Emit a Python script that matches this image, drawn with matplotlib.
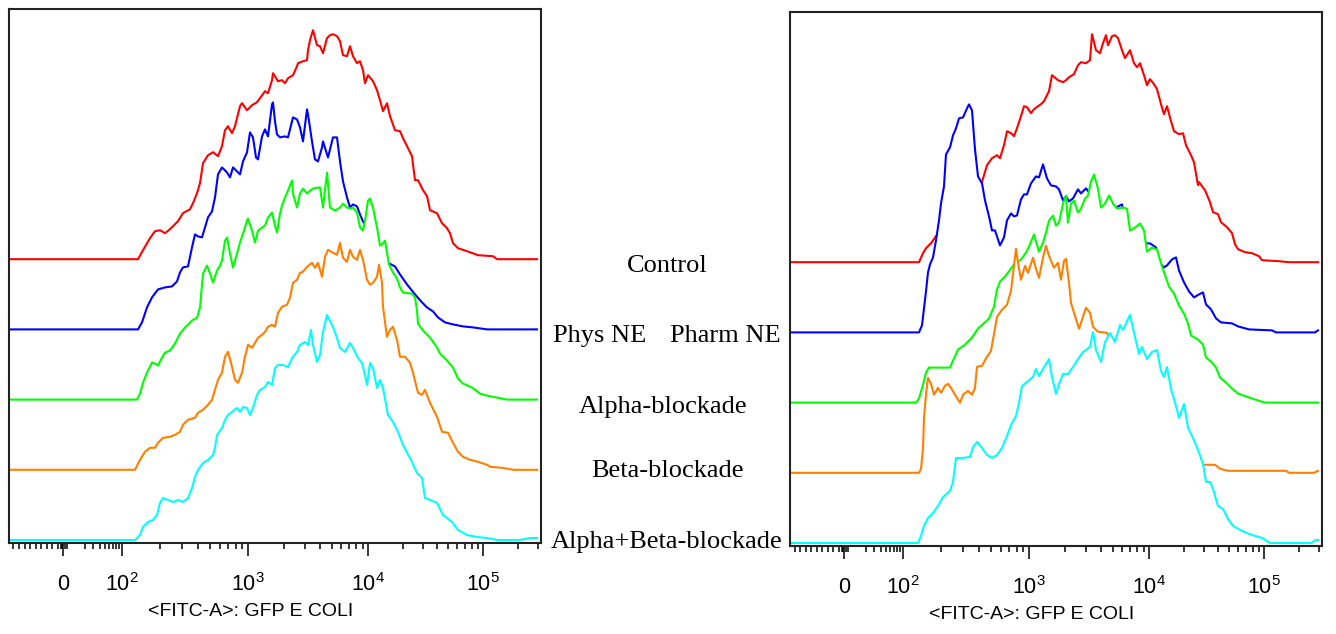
import numpy as np
import matplotlib
matplotlib.use('Agg')
import matplotlib.pyplot as plt

''' Staggered FITC-A histograms of GFP E. coli, two panels.
    x = display channel on the biexponential FITC axis, y = events (normalised to mode).
'''

plt.rcParams['font.family'] = ['Liberation Sans', 'DejaVu Sans']
plt.rcParams['mathtext.fontset'] = 'custom'
plt.rcParams['mathtext.rm'] = 'Liberation Sans'
plt.rcParams['mathtext.it'] = 'Liberation Sans:italic'
plt.rcParams['mathtext.bf'] = 'Liberation Sans:bold'

# ---- left panel (Phys NE) ----
left_control_x = [1, 129, 134, 141, 146, 151, 156, 161, 169, 174, 181, 184, 188, 191, 194, 199, 204, 209, 213, 216,
                  219, 223, 226, 231, 233, 238, 243, 248, 251, 256, 259, 263, 264, 269, 273, 276, 279, 284, 288, 289,
                  294, 298, 299, 301, 304, 308, 311, 314, 318, 321, 324, 328, 331, 334, 338, 341, 344, 348, 351, 354,
                  356, 359, 364, 368, 371, 374, 378, 381, 386, 391, 394, 399, 403, 406, 409, 414, 418, 421, 428, 433,
                  438, 441, 444, 449, 458, 469, 484, 488, 528]
left_control_y = [0, 0, 9, 21, 28, 29, 26, 30, 38, 46, 50, 56, 66, 76, 96, 104, 107, 103, 113, 129,
                  133, 126, 133, 153, 156, 149, 154, 157, 161, 168, 166, 179, 186, 178, 179, 176, 181, 184, 193, 196,
                  198, 199, 209, 219, 229, 214, 213, 206, 221, 224, 225, 223, 218, 204, 203, 213, 203, 196, 198, 189,
                  176, 184, 178, 169, 159, 148, 156, 143, 129, 128, 121, 111, 103, 79, 79, 69, 63, 49, 46, 36,
                  31, 26, 16, 11, 8, 4, 3, 0, 0]

left_ne_x = [1, 129, 133, 138, 143, 149, 156, 163, 168, 171, 174, 179, 183, 186, 189, 193, 196, 199, 203, 206,
             209, 213, 218, 221, 224, 228, 231, 234, 238, 241, 244, 247, 249, 253, 256, 259, 263, 264, 266, 268,
             271, 276, 279, 284, 288, 291, 294, 298, 299, 303, 306, 309, 313, 314, 319, 324, 328, 331, 334, 338,
             341, 344, 348, 351, 354, 357, 363, 369, 374, 380, 386, 391, 398, 406, 413, 418, 424, 429, 436, 444,
             454, 464, 478, 528]
left_ne_y = [0, 0, 7, 22, 32, 40, 42, 43, 48, 57, 62, 63, 82, 95, 93, 92, 102, 112, 118, 132,
             155, 162, 157, 152, 162, 158, 155, 168, 177, 197, 192, 172, 170, 193, 200, 193, 225, 227, 208, 195,
             192, 193, 192, 212, 210, 202, 188, 220, 215, 188, 170, 168, 182, 188, 172, 192, 192, 168, 148, 132,
             122, 125, 123, 115, 108, 103, 96, 80, 72, 66, 63, 55, 45, 35, 27, 22, 18, 12, 7, 5,
             3, 2, 0, 0]

left_alpha_x = [1, 128, 131, 134, 138, 143, 146, 149, 153, 156, 161, 166, 171, 176, 183, 188, 191, 194, 198, 201,
                204, 208, 211, 213, 216, 218, 221, 224, 228, 231, 234, 238, 239, 243, 246, 249, 253, 256, 259, 263,
                266, 268, 271, 273, 276, 279, 283, 284, 288, 291, 294, 298, 301, 304, 308, 311, 314, 318, 321, 326,
                331, 334, 338, 341, 344, 348, 351, 354, 356, 359, 361, 364, 368, 371, 374, 376, 380, 384, 388, 391,
                394, 403, 406, 408, 409, 414, 421, 428, 431, 438, 444, 449, 454, 463, 471, 478, 488, 498, 528]
left_alpha_y = [0, 0, 6, 17, 27, 37, 36, 34, 42, 47, 49, 56, 66, 72, 79, 82, 92, 126, 134, 126,
                117, 129, 134, 139, 159, 162, 146, 132, 146, 157, 166, 179, 181, 169, 157, 169, 172, 174, 182, 187,
                174, 167, 186, 194, 202, 209, 219, 206, 192, 206, 211, 206, 209, 211, 212, 212, 192, 227, 192, 189,
                192, 196, 192, 191, 192, 187, 172, 169, 179, 199, 201, 192, 172, 154, 156, 159, 135, 127, 121, 112,
                107, 106, 102, 89, 76, 69, 62, 52, 46, 39, 32, 21, 16, 12, 6, 4, 2, 0, 0]

left_beta_x = [1, 126, 131, 136, 141, 146, 149, 154, 161, 166, 171, 174, 179, 186, 189, 194, 199, 203, 206, 209,
               213, 216, 219, 223, 226, 229, 233, 236, 239, 243, 246, 249, 253, 256, 259, 263, 266, 269, 273, 278,
               281, 284, 288, 291, 294, 298, 303, 306, 309, 313, 316, 319, 324, 328, 331, 334, 338, 341, 344, 348,
               351, 354, 358, 361, 364, 368, 370, 373, 374, 378, 381, 384, 388, 391, 396, 401, 404, 409, 413, 416,
               421, 428, 433, 439, 444, 449, 454, 461, 469, 478, 481, 493, 505, 528]
left_beta_y = [0, 0, 10, 18, 22, 22, 27, 32, 33, 35, 38, 45, 50, 52, 57, 60, 65, 70, 80, 90,
               97, 113, 118, 103, 90, 87, 97, 113, 125, 122, 127, 132, 135, 138, 143, 145, 143, 157, 163, 165,
               172, 187, 190, 197, 198, 203, 207, 202, 207, 193, 213, 220, 217, 215, 227, 212, 208, 220, 213, 210,
               220, 210, 190, 185, 187, 193, 205, 187, 163, 133, 140, 143, 130, 113, 113, 107, 97, 77, 75, 80,
               67, 53, 38, 37, 27, 18, 13, 10, 8, 5, 3, 2, 0, 0]

left_ab_x = [1, 126, 131, 134, 139, 144, 148, 151, 154, 159, 164, 169, 174, 179, 183, 186, 189, 194, 199, 204,
             206, 208, 213, 216, 219, 223, 228, 231, 234, 238, 241, 244, 248, 251, 256, 259, 263, 266, 269, 274,
             279, 283, 288, 291, 296, 299, 302, 304, 308, 311, 314, 318, 321, 324, 328, 331, 336, 341, 344, 349,
             353, 356, 358, 361, 364, 368, 371, 374, 379, 384, 389, 394, 401, 408, 413, 416, 421, 428, 434, 443,
             449, 458, 468, 478, 488, 511, 521, 528]
left_ab_y = [0, 0, 5, 13, 18, 20, 25, 37, 42, 40, 38, 40, 38, 42, 52, 63, 70, 77, 80, 85,
             92, 105, 112, 120, 125, 128, 132, 128, 133, 132, 125, 132, 145, 150, 153, 158, 155, 172, 175, 175,
             173, 182, 188, 195, 198, 195, 210, 195, 178, 185, 208, 225, 219, 213, 202, 192, 188, 197, 192, 182,
             177, 165, 155, 177, 172, 152, 160, 152, 125, 118, 108, 95, 82, 67, 62, 42, 40, 37, 25, 18,
             10, 5, 3, 2, 0, 0, 2, 2]

# ---- right panel (Pharm NE) ----
right_control_x = [1, 129, 133, 136, 141, 146, 154, 164, 174, 184, 192, 194, 197, 202, 207, 210, 214, 217, 221, 224,
                   227, 231, 234, 237, 241, 244, 248, 251, 254, 259, 262, 268, 273, 276, 279, 284, 288, 291, 296, 300,
                   302, 306, 310, 313, 316, 318, 322, 325, 328, 332, 335, 340, 344, 347, 350, 354, 357, 360, 364, 367,
                   371, 374, 377, 381, 384, 389, 393, 396, 401, 404, 408, 409, 415, 420, 423, 428, 431, 437, 442, 445,
                   448, 455, 462, 469, 472, 489, 499, 528]
right_control_y = [0, 0, 9, 14, 19, 26, 34, 50, 62, 72, 80, 87, 97, 104, 107, 104, 117, 131, 129, 126,
                   134, 146, 156, 155, 149, 153, 156, 158, 161, 171, 187, 182, 180, 182, 185, 188, 197, 200, 199, 202,
                   228, 212, 209, 219, 227, 217, 226, 227, 224, 212, 204, 212, 199, 195, 199, 187, 177, 183, 178, 173,
                   158, 148, 156, 141, 131, 128, 129, 117, 107, 100, 77, 80, 72, 60, 50, 48, 40, 35, 29, 18,
                   13, 10, 9, 6, 2, 1, 0, 0]

right_ne_x = [1, 129, 132, 134, 136, 138, 140, 143, 146, 149, 151, 154, 156, 160, 163, 166, 169, 173, 177, 179,
              182, 185, 188, 192, 195, 199, 202, 205, 210, 214, 217, 221, 224, 227, 231, 234, 237, 241, 246, 249,
              253, 257, 261, 266, 269, 273, 276, 279, 283, 288, 291, 296, 300, 305, 313, 321, 328, 332, 339, 350,
              357, 360, 366, 369, 374, 377, 382, 386, 389, 394, 399, 404, 409, 413, 416, 421, 426, 431, 442, 448,
              459, 482, 486, 525, 528]
right_ne_y = [0, 0, 7, 24, 41, 60, 68, 75, 92, 112, 129, 146, 178, 185, 197, 204, 214, 215, 224, 228,
              222, 183, 156, 149, 132, 116, 102, 102, 87, 95, 112, 119, 116, 117, 133, 138, 138, 149, 156, 155,
              168, 154, 147, 146, 143, 132, 136, 131, 134, 143, 139, 144, 139, 133, 121, 123, 126, 128, 96, 94,
              89, 89, 85, 70, 65, 67, 73, 75, 62, 50, 41, 35, 38, 40, 28, 23, 14, 10, 9, 6,
              3, 2, 0, 0, 2]

right_alpha_x = [1, 126, 129, 133, 136, 139, 160, 163, 168, 175, 182, 188, 199, 204, 207, 210, 215, 221, 224, 227,
                 231, 236, 239, 244, 249, 253, 256, 259, 263, 266, 269, 273, 276, 278, 281, 284, 288, 291, 295, 298,
                 301, 304, 308, 311, 315, 319, 323, 327, 332, 337, 340, 345, 350, 354, 357, 362, 367, 372, 379, 384,
                 389, 394, 398, 401, 408, 413, 416, 421, 426, 430, 435, 442, 448, 462, 475, 528]
right_alpha_y = [0, 0, 4, 18, 30, 35, 35, 42, 53, 58, 65, 74, 84, 96, 113, 121, 126, 134, 138, 140,
                 143, 150, 156, 168, 151, 160, 170, 182, 187, 177, 180, 199, 207, 180, 199, 202, 190, 194, 204, 207,
                 221, 228, 214, 195, 199, 207, 199, 194, 195, 194, 172, 175, 179, 172, 151, 155, 153, 136, 116, 109,
                 97, 89, 79, 67, 63, 58, 45, 41, 35, 25, 21, 14, 9, 4, 0, 0]

right_beta_x = [1, 129, 131, 133, 134, 136, 138, 141, 144, 148, 151, 155, 158, 161, 165, 170, 173, 178, 182, 185,
                187, 192, 197, 201, 204, 207, 212, 217, 221, 224, 226, 228, 231, 235, 238, 243, 246, 249, 253, 256,
                259, 264, 268, 271, 274, 276, 279, 281, 284, 289, 293, 296, 300, 303, 308, 317, 324, 334, 344, 354,
                364, 374, 384, 394, 404, 413, 425, 430, 438, 496, 499, 524, 528]
right_beta_y = [0, 0, 4, 24, 55, 78, 95, 89, 78, 85, 80, 87, 89, 85, 78, 70, 78, 82, 78, 85,
                106, 107, 116, 122, 139, 156, 163, 168, 182, 207, 224, 210, 193, 207, 200, 215, 204, 195, 215, 227,
                217, 205, 210, 193, 212, 214, 190, 170, 160, 144, 156, 165, 160, 146, 141, 140, 124, 114, 104, 94,
                84, 74, 54, 37, 19, 8, 8, 4, 2, 2, 0, 0, 2]

right_ab_x = [1, 128, 131, 134, 138, 143, 148, 153, 160, 163, 166, 172, 180, 183, 187, 192, 197, 202, 207, 212,
              217, 221, 226, 229, 232, 237, 243, 246, 249, 253, 256, 259, 262, 266, 269, 273, 278, 283, 288, 293,
              300, 303, 306, 311, 315, 320, 325, 330, 333, 340, 345, 349, 352, 357, 362, 367, 371, 374, 377, 381,
              386, 389, 394, 398, 403, 408, 413, 416, 420, 423, 428, 433, 438, 443, 452, 462, 472, 480, 521, 526,
              528]
right_ab_y = [0, 0, 7, 17, 25, 30, 37, 46, 52, 61, 85, 85, 86, 96, 101, 95, 88, 85, 88, 95,
              107, 118, 127, 140, 157, 161, 166, 174, 167, 174, 179, 184, 166, 149, 159, 169, 169, 176, 184, 191,
              196, 211, 193, 181, 201, 210, 201, 218, 213, 228, 206, 189, 196, 184, 191, 193, 172, 166, 176, 154,
              137, 125, 139, 115, 105, 93, 79, 61, 61, 54, 37, 34, 24, 17, 12, 8, 5, 0, 0, 3,
              3]

layer_colors = ['#ff0000', '#0000ff', '#00ff00', '#ff8000', '#00ffff']
layer_step = 70.2   # stagger between the overlaid histograms

# biexponential FITC axis: channel of each labelled value
scale_values = [0, 1e2, 1e3, 1e4, 1e5]
scale_channels = [54, 113, 239, 359, 474]
scale_labels = ['0', r'$10^{2}$', r'$10^{3}$', r'$10^{4}$', r'$10^{5}$']
n_channels = 532


def value_to_channel(v):
    c0, c100 = scale_channels[0], scale_channels[1]
    if v < 0:
        return c0 + 0.55 * v
    if v <= 100:
        return c0 + (c100 - c0) * np.arcsinh(5 * v / 100) / np.arcsinh(5)
    d = np.log10(v)
    if d <= 5:
        return float(np.interp(d, [2, 3, 4, 5], scale_channels[1:]))
    return scale_channels[-1] + (d - 5) * (scale_channels[-1] - scale_channels[-2])


minor_values = ([-v for v in range(10, 100, 10)] + [-3, -1.5, 1.5, 3] + list(range(20, 100, 10))
                + [k * 10 ** d for d in (2, 3, 4, 5) for k in range(2, 10)])
minor_channels = [c for c in (value_to_channel(v) for v in minor_values) if 0 < c < n_channels]


def draw_panel(ax, layers):
    n = len(layers)
    for i, (x, y) in enumerate(layers):
        base = (n - 1 - i) * layer_step
        top = base + np.asarray(y, dtype=float)
        # each histogram is opaque, so the front layers hide the ones behind
        ax.fill_between(x, base, top, color='white', lw=0, zorder=2 + 2 * i)
        ax.plot(x, top, color=layer_colors[i], lw=1.5, zorder=3 + 2 * i)
    ax.set_xlim(0, n_channels)
    ax.set_ylim(-3, 531)
    ax.set_yticks([])
    ax.set_xticks(scale_channels)
    ax.set_xticklabels(scale_labels)
    ax.set_xticks(minor_channels, minor=True)
    ax.tick_params(axis='x', which='major', direction='out', length=9, width=1.1,
                   pad=13, labelsize=15.5, colors='black')
    ax.tick_params(axis='x', which='minor', direction='out', length=4.5, width=1.1, colors='black')
    for s in ax.spines.values():
        s.set_linewidth(1.5)
        s.set_color('#222222')
        s.set_zorder(20)
    ax.set_xlabel('<FITC-A>: GFP E COLI', fontsize=14, labelpad=1)
    ax.xaxis.set_label_coords(0.455, -0.113, transform=ax.transAxes)
    ax.xaxis.label.set_va('top')


W, H = 1336, 634
fig = plt.figure(figsize=(W / 100, H / 100), dpi=100)
ax_left = fig.add_axes([9 / W, (H - 543) / H, 532 / W, 534 / H])
ax_right = fig.add_axes([790 / W, (H - 546) / H, 532 / W, 534 / H])

draw_panel(ax_left, [(left_control_x, left_control_y), (left_ne_x, left_ne_y),
                     (left_alpha_x, left_alpha_y), (left_beta_x, left_beta_y),
                     (left_ab_x, left_ab_y)])
draw_panel(ax_right, [(right_control_x, right_control_y), (right_ne_x, right_ne_y),
                      (right_alpha_x, right_alpha_y), (right_beta_x, right_beta_y),
                      (right_ab_x, right_ab_y)])

serif = dict(family='Liberation Serif', fontsize=19, va='baseline')
fig.text(667 / W, 1 - 272 / H, 'Control', ha='center', **serif)
fig.text(553 / W, 1 - 342 / H, 'Phys NE', ha='left', **serif)
fig.text(670 / W, 1 - 342 / H, 'Pharm NE', ha='left', **serif)
fig.text(663 / W, 1 - 413 / H, 'Alpha-blockade', ha='center', **serif)
fig.text(667 / W, 1 - 477 / H, 'Beta-blockade', ha='center', **serif)
fig.text(667 / W, 1 - 548 / H, 'Alpha+Beta-blockade', ha='center', **serif)

fig.savefig('out.png', dpi=100, facecolor='white')
plt.close('all')
